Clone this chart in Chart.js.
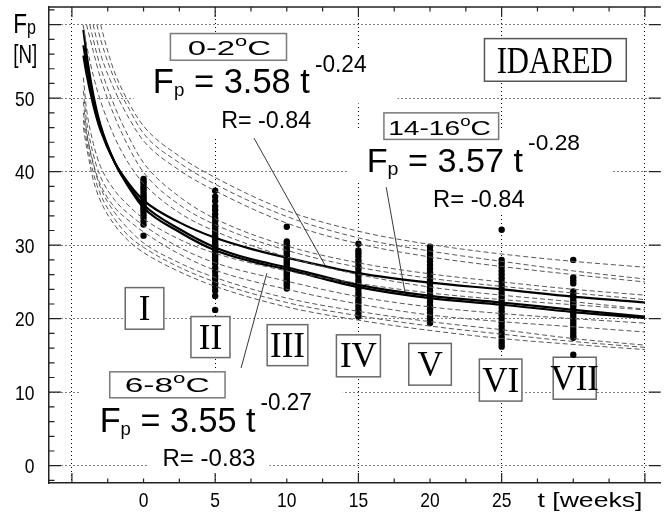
<!DOCTYPE html>
<html>
<head>
<meta charset="utf-8">
<script src="https://cdn.jsdelivr.net/npm/chart.js@4.4.1/dist/chart.umd.min.js"></script>
<style>
  html, body { margin: 0; padding: 0; background: #fff; }
  #wrap { width: 664px; height: 515px; }
</style>
</head>
<body>
<div id="wrap"><canvas id="c" width="664" height="515"></canvas></div>
<script>
// ---- measured firmness Fp [N] per storage term (weeks) ----
const weeks = [0, 5, 10, 15, 20, 25, 30];
const termLabels = ['I', 'II', 'III', 'IV', 'V', 'VI', 'VII'];
const firmness_I   = [39.0, 38.7, 38.4, 38.0, 37.7, 37.4, 37.0, 36.7, 36.4, 36.1, 35.8, 35.5, 35.2, 34.9, 34.6, 34.2, 33.8, 33.3, 32.8, 31.3];
const firmness_II  = [37.4, 36.6, 36.0, 35.3, 34.8, 34.2, 33.7, 33.2, 32.7, 32.3, 31.9, 31.5, 31.1, 30.8, 30.5, 30.2, 29.9, 29.6, 29.3, 29.0, 28.7, 28.4, 28.0, 27.5, 26.9, 26.4, 25.8, 25.4, 24.8, 24.3, 23.8, 23.1, 21.2];
const firmness_III = [32.5, 30.5, 30.2, 29.9, 29.6, 29.3, 29.0, 28.7, 28.4, 28.1, 27.8, 27.5, 27.2, 26.9, 26.6, 26.3, 26.0, 25.7, 25.4, 25.1, 24.8, 24.5, 24.1];
const firmness_IV  = [30.2, 29.3, 28.9, 28.5, 28.0, 27.6, 27.1, 26.7, 26.2, 25.8, 25.3, 24.9, 24.4, 24.0, 23.5, 23.1, 22.6, 22.2, 21.7, 21.2, 20.7, 20.3];
const firmness_V   = [29.8, 29.3, 28.8, 28.3, 27.8, 27.3, 26.8, 26.3, 25.8, 25.3, 24.8, 24.3, 23.8, 23.3, 22.8, 22.3, 21.8, 21.3, 20.8, 20.3, 19.8, 19.4];
const firmness_VI  = [32.1, 28.0, 27.5, 27.0, 26.5, 26.0, 25.5, 25.0, 24.5, 24.0, 23.5, 23.0, 22.5, 22.0, 21.5, 21.0, 20.5, 20.0, 19.5, 19.0, 18.5, 18.0, 17.5, 17.0, 16.6, 16.2];
const firmness_VII = [28.0, 25.6, 25.2, 24.8, 23.7, 23.3, 22.9, 22.5, 22.1, 21.7, 21.3, 20.9, 20.5, 20.1, 19.7, 19.3, 18.9, 18.5, 18.1, 17.7, 17.4, 15.1];

// ---- fitted power curves, sampled along t [weeks] ----
const fitT      = [-4.2, -4, -3.5, -3, -2, -1, 0, 2.5, 5, 7.5, 10, 15, 20, 25, 30, 35];
const fit_0_2   = [55.8, 53.5, 49.0, 45.6, 41.2, 38.3, 36.1, 33.1, 31.0, 29.5, 28.3, 26.2, 24.9, 24.0, 23.0, 22.2];
const fit_6_8   = [57.2, 54.8, 49.8, 46.0, 41.2, 38.0, 35.5, 32.2, 29.7, 28.1, 27.0, 24.6, 23.1, 22.2, 21.2, 20.3];
const fit_14_16 = [59.3, 56.3, 50.4, 46.3, 41.2, 37.8, 35.1, 31.8, 29.3, 27.8, 26.7, 24.3, 22.8, 21.9, 20.9, 20.1];

// ---- band curves as [t, Fp] pairs ----
const bandUpperOuterA = [[-3.0,60],[-2.5,56.4],[-2,53.4],[-1,49.3],[0,46.2],[2.5,42.1],[5,39.2],[10,34.7],[15,31.9],[20,30.1],[25,28.8],[30,27.8],[35,27.0]];
const bandUpperOuterB = [[-3.26,60],[-3,58.0],[-2,52.4],[-1,48.5],[0,45.2],[2.5,41.2],[5,38.3],[10,33.9],[15,31.0],[20,29.2],[25,27.8],[30,26.5],[35,25.4]];
const bandUpperOuterC = [[-3.52,60],[-3,56.0],[-2,51.0],[-1,47.2],[0,44.2],[2.5,40.2],[5,37.4],[10,33.0],[15,30.2],[20,28.4],[25,27.1],[30,26.0],[35,25.0]];
const bandUpperInnerA = [[-3.75,60],[-3.5,57.9],[-3,54.2],[-2,48.8],[-1,44.6],[0,41.2],[2.5,36.6],[5,33.6],[10,29.9],[15,27.6],[20,26.1],[25,25.0],[30,24.0],[35,23.2]];
const bandUpperInnerB = [[-3.98,60],[-3.5,56.3],[-3,52.7],[-2,47.4],[-1,43.2],[0,39.9],[2.5,35.5],[5,32.8],[10,29.3],[15,27.0],[20,25.5],[25,24.4],[30,23.5],[35,22.6]];
const bandUpperInnerC = [[-4.22,60],[-4,57.5],[-3.5,53.0],[-3,49.6],[-2,44.6],[-1,41.0],[0,38.4],[2.5,34.4],[5,31.9],[10,28.4],[15,26.0],[20,24.3],[25,23.2],[30,22.3],[35,21.3]];
const bandLowerInnerA = [[-4.2,52.8],[-4,48.8],[-3.5,43.8],[-3,40.7],[-2,37.4],[-1,35.3],[0,33.6],[2.5,30.8],[5,28.9],[10,26.5],[15,24.8],[20,23.5],[25,22.6],[30,21.9],[35,21.2]];
const bandLowerInnerB = [[-4.2,51.0],[-4,47.2],[-3.5,42.3],[-3,39.3],[-2,36.1],[-1,34.2],[0,32.7],[2.5,29.7],[5,27.6],[10,25.1],[15,23.0],[20,21.6],[25,20.7],[30,20.0],[35,19.4]];
const bandLowerInnerC = [[-4.2,49.5],[-4,45.9],[-3.5,41.1],[-3,38.2],[-2,35.1],[-1,33.3],[0,31.8],[2.5,28.8],[5,26.6],[10,24.0],[15,22.0],[20,20.5],[25,19.6],[30,18.9],[35,18.2]];
const bandLowerOuterA = [[-4.2,48.0],[-4,45.4],[-3.5,40.9],[-3,37.8],[-2,34.4],[-1,32.1],[0,30.3],[2.5,27.6],[5,25.6],[10,22.8],[15,21.0],[20,19.6],[25,18.5],[30,17.3],[35,16.4]];
const bandLowerOuterB = [[-4.2,47.0],[-4,44.5],[-3.5,39.8],[-3,36.9],[-2,33.5],[-1,31.2],[0,29.7],[2.5,27.0],[5,25.0],[10,22.2],[15,20.4],[20,19.0],[25,17.9],[30,16.9],[35,16.1]];
const bandLowerOuterC = [[-4.2,46.0],[-4,43.6],[-3.5,38.8],[-3,36.0],[-2,32.7],[-1,30.5],[0,29.0],[2.5,26.4],[5,24.4],[10,21.6],[15,19.8],[20,18.4],[25,17.3],[30,16.5],[35,15.8]];

// ---- axis ticks ----
const xTickValues  = [-5, -2.5, 0, 2.5, 5, 7.5, 10, 12.5, 15, 17.5, 20, 22.5, 25, 27.5, 30, 32.5, 35];
const xGridValues  = [-5, 5, 15, 25, 35];
const xLabelValues = [0, 5, 10, 15, 20, 25];
const xTitle = 't [weeks]';
const yTickValues  = [-2, 0, 2, 4, 6, 8, 10, 12, 14, 16, 18, 20, 22, 24, 26, 28, 30, 32, 34, 36, 38, 40, 42, 44, 46, 48, 50, 52, 54, 56, 58, 60, 62];
const yGridValues  = [0, 10, 20, 30, 40, 50, 60];
const yLabelValues = [0, 10, 20, 30, 40, 50];

const SANS = '"Liberation Sans", Arial, sans-serif';
const SERIF = '"Liberation Serif", "Times New Roman", serif';
const TICK_SIZE = 21;     // tick label font size
const TICK_SQUEEZE = 0.83;

// ---- text annotations (anchors in data units, widths in px) ----
const fitNotes = [
  { box: [1.875, 9.98, 58.79, 55.16], label: ['0-2', 'C'], labelAt: [3.08, 55.84], labelW: 83.3,
    coef: '3.58', expo: '-0.24', eqAt: [0.65, 50.64], eqW: 213.7, main: 35, sub: 19, sup: 23, subDy: 3, supDy: -21.5,
    r: 'R= -0.84', rAt: [5.42, 45.92], rW: 90, rSize: 23 },
  { box: [16.78, 24.79, 48.0, 44.39], label: ['14-16', 'C'], labelAt: [17.08, 44.97], labelW: 102.7,
    coef: '3.57', expo: '-0.28', eqAt: [15.58, 39.99], eqW: 213.3, main: 33, sub: 19, sup: 22, subDy: 3, supDy: -21.5,
    r: 'R= -0.84', rAt: [20.21, 35.23], rW: 91.7, rSize: 23 },
  { box: [-2.36, 5.69, 12.77, 9.24], label: ['6-8', 'C'], labelAt: [-1.32, 10.05], labelW: 85,
    coef: '3.55', expo: '-0.27', eqAt: [-3.06, 4.62], eqW: 212, main: 35, sub: 19, sup: 23, subDy: 3, supDy: -21.5,
    r: 'R= -0.83', rAt: [1.32, 0.0], rW: 93, rSize: 23 }
];
const leaderLines = [
  [[7.71, 44.57], [12.78, 26.9]],
  [[16.94, 37.9], [18.26, 23.5]],
  [[8.61, 26.2], [6.81, 13.3]]
];
const termBoxes = [
  { c: [0.07, 21.4], w: 38.6, h: 41.6 },
  { c: [4.67, 17.5], w: 39, h: 41 },
  { c: [10.05, 16.4], w: 40.7, h: 41 },
  { c: [15.0, 14.95], w: 44, h: 42 },
  { c: [20.0, 13.8], w: 42.6, h: 41.7 },
  { c: [24.93, 11.65], w: 42.6, h: 42 },
  { c: [30.1, 11.9], w: 43, h: 42 }
];
const cultivar = { text: 'IDARED', box: [23.8, 33.7, 58.1, 52.3], at: [24.65, 53.4], w: 116, size: 38 };

// draws a run of text pieces squeezed/stretched to a target width; align: 'left' | 'center' | 'right'
function drawParts(ctx, parts, x, y, targetW, align) {
  let nat = 0;
  for (const p of parts) { ctx.font = p.font; nat += ctx.measureText(p.text).width + (p.dx || 0); }
  const sx = targetW ? targetW / nat : 1;
  const w = nat * sx;
  const x0 = align === 'right' ? x - w : align === 'center' ? x - w / 2 : x;
  ctx.save();
  ctx.textAlign = 'left';
  ctx.translate(x0, y);
  ctx.scale(sx, 1);
  let cx = 0;
  for (const p of parts) {
    ctx.font = p.font;
    cx += (p.dx || 0);
    ctx.fillText(p.text, cx, p.dy || 0);
    cx += ctx.measureText(p.text).width;
  }
  ctx.restore();
  return w;
}
const f = (size, fam) => size + 'px ' + (fam || SANS);
function tickText(ctx, s, x, y, align) {
  ctx.font = f(TICK_SIZE);
  const w = ctx.measureText(s).width * TICK_SQUEEZE;
  drawParts(ctx, [{ text: s, font: f(TICK_SIZE) }], x, y, w, align);
}

const decor = {
  id: 'decor',
  beforeDraw(chart) {
    const { ctx, width, height } = chart;
    ctx.save();
    ctx.fillStyle = '#fff';
    ctx.fillRect(0, 0, width, height);
    ctx.restore();
  },
  beforeDatasetsDraw(chart) {
    const ctx = chart.ctx;
    const X = v => chart.scales.x.getPixelForValue(v);
    const Y = v => chart.scales.y.getPixelForValue(v);
    ctx.save();
    ctx.textBaseline = 'alphabetic';

    for (const n of fitNotes) {
      const ex = X(n.eqAt[0]), ey = Y(n.eqAt[1]);
      ctx.fillStyle = '#fff';
      ctx.fillRect(ex - 19, ey - n.main * 1.25, n.eqW + 50, n.main * 1.25 + 10);
      const rx = X(n.rAt[0]), ry = Y(n.rAt[1]);
      ctx.fillRect(rx - 14, ry - n.rSize - 4, n.rW + 28, n.rSize + 12);
      const bx1 = X(n.box[0]), bx2 = X(n.box[1]), by1 = Y(n.box[2]), by2 = Y(n.box[3]);
      ctx.fillRect(bx1, by1, bx2 - bx1, by2 - by1);
      ctx.strokeStyle = '#7a7a7a';
      ctx.lineWidth = 1.5;
      ctx.strokeRect(bx1, by1, bx2 - bx1, by2 - by1);

      ctx.fillStyle = '#000';
      drawParts(ctx, [
        { text: n.label[0], font: f(21) },
        { text: 'o', font: f(14), dy: -9 },
        { text: n.label[1], font: f(21) }
      ], X(n.labelAt[0]), Y(n.labelAt[1]), n.labelW);

      drawParts(ctx, [
        { text: 'F', font: f(n.main) },
        { text: 'p', font: f(n.sub), dy: n.subDy },
        { text: ' = ' + n.coef + ' t', font: f(n.main) },
        { text: n.expo, font: f(n.sup), dy: n.supDy, dx: 5 }
      ], ex, ey, n.eqW);

      drawParts(ctx, [{ text: n.r, font: f(n.rSize) }], rx, ry, n.rW);
    }

    // leader lines from labels to their curves
    ctx.strokeStyle = '#222';
    ctx.lineWidth = 0.9;
    for (const [a, b] of leaderLines) {
      ctx.beginPath();
      ctx.moveTo(X(a[0]), Y(a[1]));
      ctx.lineTo(X(b[0]), Y(b[1]));
      ctx.stroke();
    }

    // storage-term boxes
    termBoxes.forEach((b, i) => {
      const cx = X(b.c[0]), cy = Y(b.c[1]);
      ctx.fillStyle = '#fff';
      ctx.fillRect(cx - b.w / 2, cy - b.h / 2, b.w, b.h);
      ctx.strokeStyle = '#6a6a6a';
      ctx.lineWidth = 1.5;
      ctx.strokeRect(cx - b.w / 2, cy - b.h / 2, b.w, b.h);
      ctx.fillStyle = '#000';
      ctx.font = f(35, SERIF);
      ctx.textAlign = 'center';
      ctx.fillText(termLabels[i], cx, cy + 11.5);
      ctx.textAlign = 'left';
    });

    // cultivar name
    const c = cultivar;
    const cx1 = X(c.box[0]), cx2 = X(c.box[1]), cy1 = Y(c.box[2]), cy2 = Y(c.box[3]);
    ctx.fillStyle = '#fff';
    ctx.fillRect(cx1, cy1, cx2 - cx1, cy2 - cy1);
    ctx.strokeStyle = '#555';
    ctx.lineWidth = 1.5;
    ctx.strokeRect(cx1, cy1, cx2 - cx1, cy2 - cy1);
    ctx.fillStyle = '#000';
    drawParts(ctx, [{ text: c.text, font: f(c.size, SERIF) }], X(c.at[0]), Y(c.at[1]), c.w);
    ctx.restore();
  },
  afterDraw(chart) {
    const ctx = chart.ctx;
    const { left, right, top, bottom } = chart.chartArea;
    const X = v => chart.scales.x.getPixelForValue(v);
    const Y = v => chart.scales.y.getPixelForValue(v);
    ctx.save();
    ctx.strokeStyle = '#222';
    ctx.lineWidth = 1.5;
    // top frame
    ctx.beginPath();
    ctx.moveTo(left, top);
    ctx.lineTo(right, top);
    ctx.stroke();
    // inward tick marks
    ctx.lineWidth = 1.2;
    ctx.beginPath();
    for (const v of xTickValues) {
      const len = xGridValues.includes(v) ? 10 : 4.5;
      const x = X(v);
      ctx.moveTo(x, bottom); ctx.lineTo(x, bottom - len);
      ctx.moveTo(x, top); ctx.lineTo(x, top + len);
    }
    for (const v of yTickValues) {
      const major = yGridValues.includes(v);
      const len = major ? 12 : 5.5;
      const y = Y(v);
      if (y > bottom || y < top) continue;
      ctx.moveTo(left, y); ctx.lineTo(left + len, y);
      if (major) { ctx.moveTo(right, y); ctx.lineTo(right - len, y); }
    }
    ctx.stroke();

    // tick labels
    ctx.fillStyle = '#000';
    ctx.textBaseline = 'alphabetic';
    for (const v of yLabelValues) tickText(ctx, String(v), left - 14.5, Y(v) + 7.5, 'right');
    for (const v of xLabelValues) tickText(ctx, String(v), X(v), bottom + 24, 'center');
    drawParts(ctx, [{ text: xTitle, font: f(TICK_SIZE) }], X(27.5), bottom + 24, 105);

    // y-axis title
    drawParts(ctx, [
      { text: 'F', font: f(28) },
      { text: 'p', font: f(20), dy: 1 }
    ], 13.3, 33.3, 22.7);
    drawParts(ctx, [{ text: '[N]', font: f(25) }], 13.3, 63.3, 24);
    ctx.restore();
  }
};

// ---- datasets ----
const pts = (xs, ys) => xs.map((x, i) => ({ x, y: ys[i] }));
const pairs = arr => arr.map(([x, y]) => ({ x, y }));
const bandStyle = {
  type: 'line', borderColor: '#585858', borderWidth: 1, borderDash: [5, 3],
  pointRadius: 0, fill: false, cubicInterpolationMode: 'monotone'
};
const fitStyle = {
  type: 'line', borderColor: '#000', borderWidth: 2.2,
  pointRadius: 0, fill: false, cubicInterpolationMode: 'monotone'
};
const bands = [bandUpperOuterA, bandUpperOuterB, bandUpperOuterC, bandUpperInnerA, bandUpperInnerB, bandUpperInnerC,
               bandLowerInnerA, bandLowerInnerB, bandLowerInnerC, bandLowerOuterA, bandLowerOuterB, bandLowerOuterC];
const firmnessByTerm = [firmness_I, firmness_II, firmness_III, firmness_IV, firmness_V, firmness_VI, firmness_VII];
const measured = [];
weeks.forEach((w, i) => firmnessByTerm[i].forEach(v => measured.push({ x: w, y: v })));

const datasets = [
  ...bands.map(b => Object.assign({ data: pairs(b) }, bandStyle)),
  Object.assign({ label: '0-2 C', data: pts(fitT, fit_0_2) }, fitStyle),
  Object.assign({ label: '6-8 C', data: pts(fitT, fit_6_8) }, fitStyle),
  Object.assign({ label: '14-16 C', data: pts(fitT, fit_14_16) }, fitStyle),
  { type: 'scatter', label: 'Fp', data: measured, pointRadius: 3.2, pointHoverRadius: 3.2,
    backgroundColor: '#000', borderColor: '#000', borderWidth: 0 }
];

const dotted = [1, 3];
new Chart(document.getElementById('c'), {
  type: 'scatter',
  data: { datasets },
  options: {
    responsive: false,
    devicePixelRatio: 1,
    animation: false,
    events: [],
    layout: { padding: { left: 0, right: 0, top: 7, bottom: 0 } },
    plugins: { legend: { display: false }, tooltip: { enabled: false } },
    scales: {
      x: {
        type: 'linear', min: -6.6, max: 36.11,
        afterBuildTicks: s => { s.ticks = xTickValues.map(v => ({ value: v })); },
        afterFit: s => { s.height = 32; },
        ticks: { display: false, autoSkip: false, maxRotation: 0 },
        grid: {
          drawTicks: false, lineWidth: 1,
          color: c => (c.tick && xGridValues.includes(c.tick.value)) ? '#000' : 'rgba(0,0,0,0)'
        },
        border: { display: true, color: '#222', width: 1.5, dash: dotted }
      },
      y: {
        type: 'linear', min: -2.35, max: 62.4,
        afterBuildTicks: s => { s.ticks = yTickValues.map(v => ({ value: v })); },
        afterFit: s => { s.width = 49; },
        ticks: { display: false, autoSkip: false },
        grid: {
          drawTicks: false, lineWidth: 1,
          color: c => (c.tick && yGridValues.includes(c.tick.value)) ? '#000' : 'rgba(0,0,0,0)'
        },
        border: { display: true, color: '#222', width: 1.5, dash: dotted }
      }
    }
  },
  plugins: [decor]
});
</script>
</body>
</html>
